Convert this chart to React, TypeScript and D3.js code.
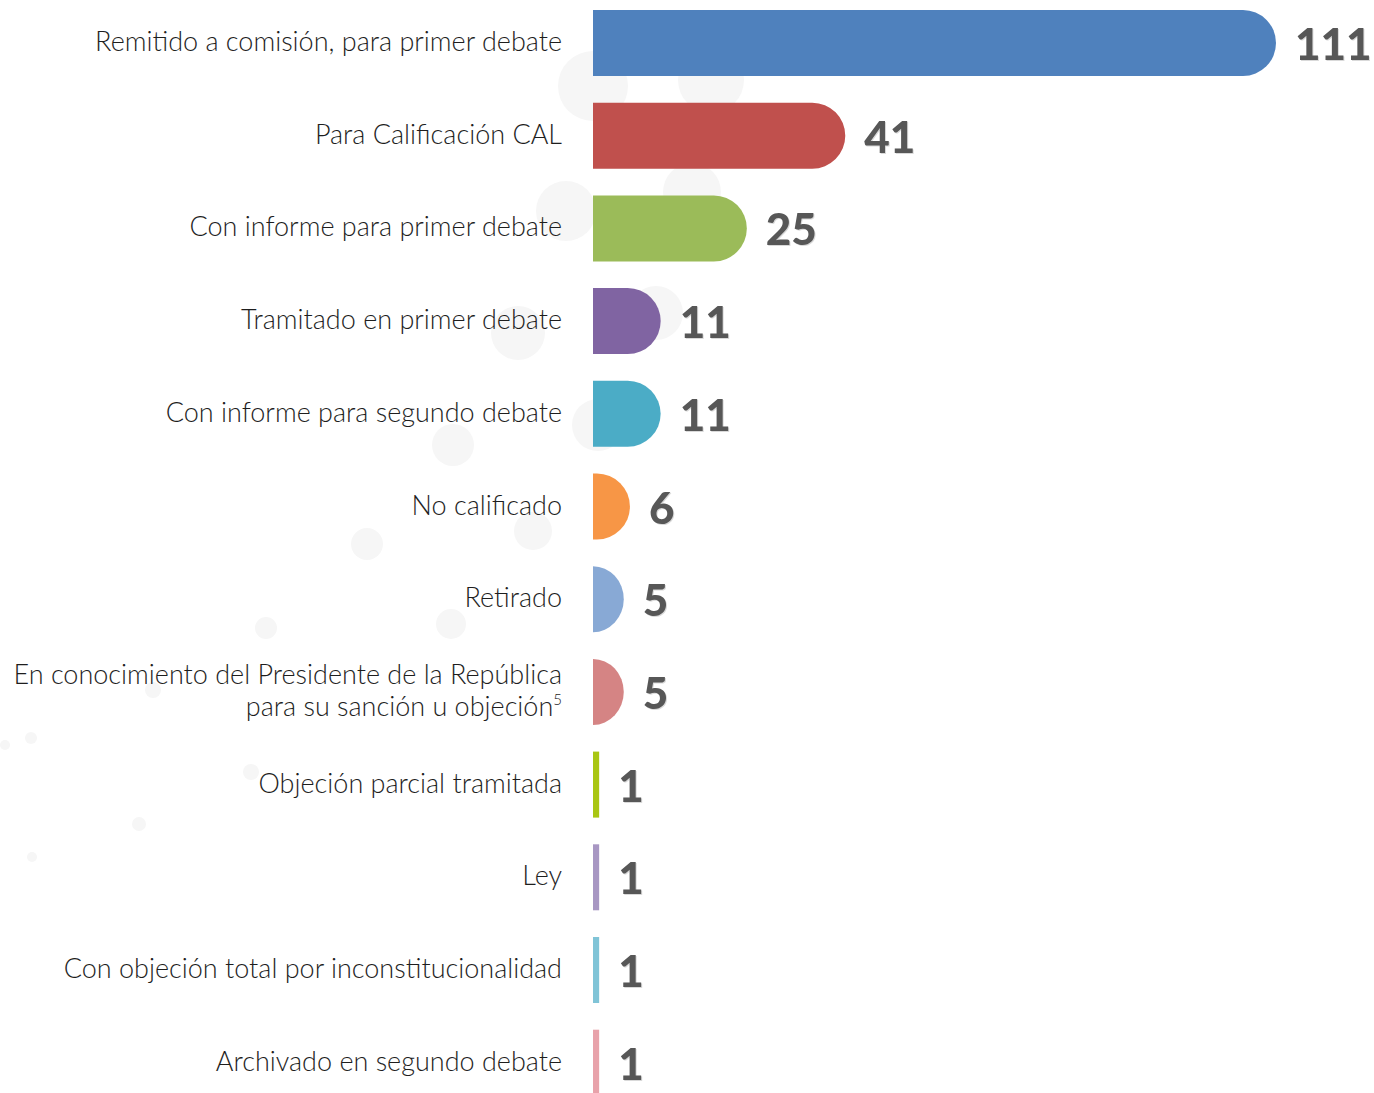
import React from "react";
import * as d3 from "d3";

const categories = [
  "Remitido a comisión, para primer debate",
  "Para Calificación CAL",
  "Con informe para primer debate",
  "Tramitado en primer debate",
  "Con informe para segundo debate",
  "No calificado",
  "Retirado",
  "En conocimiento del Presidente de la República|para su sanción u objeción",
  "Objeción parcial tramitada",
  "Ley",
  "Con objeción total por inconstitucionalidad",
  "Archivado en segundo debate",
];
const values = [111, 41, 25, 11, 11, 6, 5, 5, 1, 1, 1, 1];
const colors = [
  "#4f81bd", "#c0504d", "#9bbb59", "#8064a2", "#4bacc6", "#f79646",
  "#88a9d5", "#d58484", "#a9c613", "#a897c3", "#80c4d7", "#e8a2aa",
];
const footnotes = ["", "", "", "", "", "", "", "5", "", "", "", ""];

// decorative background dots: [cx, cy, r]
const bgDots: [number, number, number][] = [
  [593, 86, 35], [711, 80, 33], [566, 211, 30], [692, 192, 29],
  [518, 333, 27], [656, 313, 27], [598, 425, 26], [453, 445, 21],
  [533, 531, 19], [367, 544, 16], [451, 624, 15], [266, 628, 11],
  [153, 690, 8], [31, 738, 6], [5, 745, 5], [251, 772, 8],
  [139, 824, 7], [32, 857, 5],
];

const W = 1374;
const H = 1093;

function barPath(x0: number, x1: number, y0: number, h: number) {
  const w = x1 - x0;
  const r = h / 2;
  if (w < 20) return `M${x0},${y0}H${x1}V${y0 + h}H${x0}Z`;
  const rx = Math.min(w, r);
  return `M${x0},${y0}H${x1 - rx}A${rx},${r} 0 0 1 ${x1 - rx},${y0 + h}H${x0}Z`;
}

export default function App() {
  const x = d3.scaleLinear().domain([0, 111]).range([593, 1276]);
  const y = d3
    .scaleBand<string>()
    .domain(categories)
    .range([10, 1095.7])
    .paddingInner(0.288)
    .paddingOuter(0);
  const bh = y.bandwidth();

  return (
    <svg
      width={W}
      height={H}
      style={{ position: "absolute", left: 0, top: 0, background: "#fff" }}
    >
      <g>
        {bgDots.map(([cx, cy, r], i) => (
          <circle key={i} cx={cx} cy={cy} r={r} fill="#f6f6f6" />
        ))}
      </g>
      {categories.map((c, i) => {
        const y0 = y(c)!;
        const cy = y0 + bh / 2;
        const lines = c.split("|");
        const lh = 32;
        return (
          <g key={c}>
            <path d={barPath(x(0), x(values[i]), y0, bh)} fill={colors[i]} />
            <text
              x={562}
              textAnchor="end"
              fontFamily="Lato"
              fontWeight={300}
              fontSize={27}
              fill="#1e1e1e"
            >
              {lines.map((ln, j) => (
                <tspan
                  key={j}
                  x={562}
                  y={cy - ((lines.length - 1) * lh) / 2 + j * lh + 8}
                >
                  {ln}
                  {j === lines.length - 1 && footnotes[i] ? (
                    <tspan fontSize={15} dy={-11}>
                      {footnotes[i]}
                    </tspan>
                  ) : null}
                </tspan>
              ))}
            </text>
            <text
              x={x(values[i]) + 19}
              y={cy + 17}
              fontFamily="Lato"
              fontWeight={900}
              fontSize={44}
              fill="#575757"
              style={{ filter: "drop-shadow(1px 1px 0.5px rgba(0,0,0,0.15))" }}
            >
              {values[i]}
            </text>
          </g>
        );
      })}
    </svg>
  );
}
